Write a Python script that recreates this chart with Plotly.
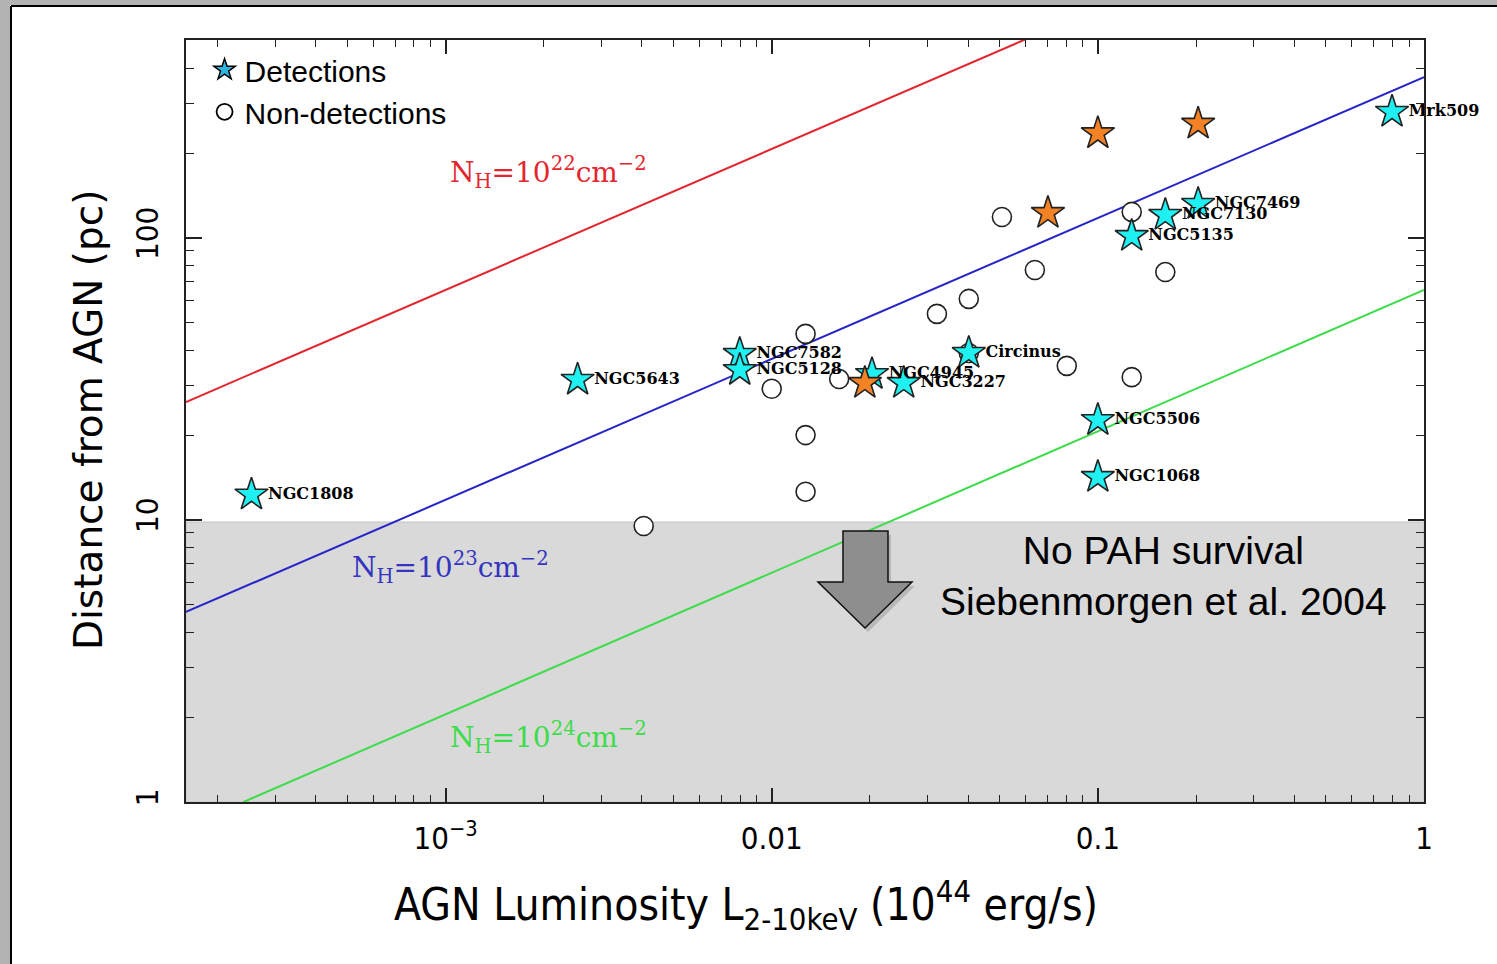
import plotly.graph_objects as go
import numpy as np

# ---------------- data ----------------
det_names = ["NGC1808", "NGC5643", "NGC7582", "NGC5128", "NGC4945", "NGC3227",
             "Circinus", "NGC5506", "NGC1068", "NGC5135", "NGC7130", "NGC7469", "Mrk509"]
det_L = [2.54e-4, 2.54e-3, 7.98e-3, 7.98e-3, 0.0203, 0.0254,
         0.0402, 0.100, 0.100, 0.127, 0.161, 0.203, 0.798]
det_d = [12.3, 31.4, 38.8, 34.0, 32.9, 30.6,
         39.1, 22.6, 14.2, 101.6, 120.7, 132.0, 280.0]

orange_L = [0.0193, 0.0703, 0.100, 0.203]
orange_d = [30.6, 122.6, 235.0, 254.0]

nondet_L = [4.05e-3, 0.0100, 0.0127, 0.0127, 0.0127, 0.0161, 0.0321, 0.0402,
            0.0402, 0.0508, 0.0641, 0.0803, 0.127, 0.127, 0.161]
nondet_d = [9.52, 29.2, 45.7, 20.0, 12.6, 31.6, 53.8, 60.8,
            39.1, 118.7, 77.0, 35.2, 123.7, 32.1, 75.7]

# N_H lines: endpoints (L, d)
line_22_L = [1.6e-4, 1.0]
line_22_d = [26.2, 2065.0]
line_23_L = [1.6e-4, 1.0]
line_23_d = [4.72, 372.0]
line_24_L = [2.4e-4, 1.0]
line_24_d = [1.0, 65.5]

x_ticks = [1e-3, 0.01, 0.1, 1]
x_ticktext = ["10<sup>−3</sup>", "0.01", "0.1", "1"]
y_ticks = [1, 10, 100]
y_ticktext = ["1", "10", "100"]
x_minor = [m * 10.0 ** k for k in range(-4, 0) for m in range(2, 10)]
y_minor = [m * 10.0 ** k for k in range(0, 3) for m in range(2, 10)]

x_range_log = [np.log10(1.6e-4), 0.0]
y_range_log = [0.0, 2.702]

# ---------------- figure ----------------
W, H = 1497, 964
L_M, R_M, T_M, B_M = 186, 73, 40, 162
PW, PH = W - L_M - R_M, H - T_M - B_M


def px(xp):
    return (xp - L_M) / PW


def py(yp):
    return (H - B_M - yp) / PH


fig = go.Figure()

fig.add_trace(go.Scatter(x=line_22_L, y=line_22_d, mode="lines",
                         line=dict(color="#e3262e", width=2), showlegend=False, hoverinfo="skip"))
fig.add_trace(go.Scatter(x=line_23_L, y=line_23_d, mode="lines",
                         line=dict(color="#2626c8", width=2), showlegend=False, hoverinfo="skip"))
fig.add_trace(go.Scatter(x=line_24_L, y=line_24_d, mode="lines",
                         line=dict(color="#3ddc4a", width=2), showlegend=False, hoverinfo="skip"))

fig.add_trace(go.Scatter(x=nondet_L, y=nondet_d, mode="markers",
                         marker=dict(symbol="circle", size=19, color="white",
                                     line=dict(color="#222", width=1.6)),
                         showlegend=False))

fig.add_trace(go.Scatter(x=det_L, y=det_d, mode="markers+text", text=det_names,
                         textposition="middle right", cliponaxis=False,
                         textfont=dict(family="DejaVu Serif", size=16, color="black", weight="bold"),
                         marker=dict(symbol="star", size=25, color="#1ff0f2",
                                     line=dict(color="#222", width=1.6)),
                         showlegend=False))

fig.add_trace(go.Scatter(x=orange_L, y=orange_d, mode="markers",
                         marker=dict(symbol="star", size=25, color="#f28224",
                                     line=dict(color="#222", width=1.6)),
                         showlegend=False))

# legend-only entries
fig.add_trace(go.Scatter(x=[None], y=[None], mode="markers", name="Detections",
                         marker=dict(symbol="star", size=16, color="#2ab6e0",
                                     line=dict(color="black", width=1.5))))
fig.add_trace(go.Scatter(x=[None], y=[None], mode="markers", name="Non-detections",
                         marker=dict(symbol="circle", size=16, color="white",
                                     line=dict(color="black", width=1.8))))

shapes = []
# shaded "no PAH survival" region
shapes.append(dict(type="rect", xref="paper", yref="paper", x0=0, x1=1, y0=0, y1=py(522),
                   fillcolor="#d9d9d9", line=dict(color="#c4c4c4", width=1), layer="below"))
# down arrow
ax = [843, 888, 888, 912, 865, 818, 843]
ay = [531, 531, 582, 582, 628, 582, 582]
path = "M " + " L ".join(f"{px(a):.5f},{py(b):.5f}" for a, b in zip(ax, ay)) + " Z"
shadow = "M " + " L ".join(f"{px(a + 3):.5f},{py(b + 4):.5f}" for a, b in zip(ax, ay)) + " Z"
shapes.append(dict(type="path", xref="paper", yref="paper", path=shadow,
                   fillcolor="rgba(0,0,0,0.15)", line=dict(width=0)))
shapes.append(dict(type="path", xref="paper", yref="paper", path=path,
                   fillcolor="#8e8e8e", line=dict(color="#111", width=1.5)))
# outer frame (gray band + black line at top and left)
shapes.append(dict(type="rect", xref="paper", yref="paper", x0=px(0), x1=px(10),
                   y0=py(964), y1=py(0), fillcolor="#b3b3b3", line=dict(width=0)))
shapes.append(dict(type="rect", xref="paper", yref="paper", x0=px(0), x1=px(1497),
                   y0=py(5), y1=py(0), fillcolor="#b3b3b3", line=dict(width=0)))
shapes.append(dict(type="line", xref="paper", yref="paper", x0=px(11), x1=px(11),
                   y0=py(964), y1=py(6), line=dict(color="black", width=2)))
shapes.append(dict(type="line", xref="paper", yref="paper", x0=px(11), x1=px(1497),
                   y0=py(6), y1=py(6), line=dict(color="black", width=2)))

serif = "DejaVu Serif"
annotations = [
    dict(text="N<sub>H</sub>=10<sup>22</sup>cm<sup>−2</sup>", x=px(548), y=py(172),
         font=dict(family=serif, size=28, color="#e3262e")),
    dict(text="N<sub>H</sub>=10<sup>23</sup>cm<sup>−2</sup>", x=px(450), y=py(567),
         font=dict(family=serif, size=28, color="#3434c0")),
    dict(text="N<sub>H</sub>=10<sup>24</sup>cm<sup>−2</sup>", x=px(548), y=py(737),
         font=dict(family=serif, size=28, color="#3ddc4a")),
    dict(text="No PAH survival<br>Siebenmorgen et al. 2004", x=px(1163), y=py(576),
         font=dict(family="Liberation Sans, Arial", size=39, color="black")),
    dict(text="AGN Luminosity L<sub>2-10keV</sub> (10<sup>44</sup> erg/s)", x=px(746), y=py(905),
         font=dict(family="Liberation Sans Narrow, DejaVu Sans Condensed, Arial", size=44, color="black")),
    dict(text="Distance from AGN (pc)", x=px(88), y=py(420), textangle=-90,
         font=dict(family="DejaVu Sans, Verdana", size=39, color="black")),
]
for a in annotations:
    a.update(xref="paper", yref="paper", showarrow=False, xanchor="center", yanchor="middle")

tick_font = dict(family="Liberation Sans Narrow, DejaVu Sans Condensed, Arial", size=31, color="black")
axis_common = dict(showgrid=False, zeroline=False, showline=True, linecolor="#222", linewidth=2,
                   mirror="ticks", ticks="inside", tickcolor="#222", tickwidth=1.5,
                   tickfont=tick_font)

fig.update_xaxes(type="log", range=x_range_log, tickvals=x_ticks, ticktext=x_ticktext,
                 ticklen=14, ticklabelstandoff=8,
                 minor=dict(tickvals=x_minor, ticks="inside", ticklen=7, tickcolor="#222",
                            tickwidth=1.2, showgrid=False),
                 **axis_common)
fig.update_yaxes(type="log", range=y_range_log, tickvals=y_ticks, ticktext=y_ticktext,
                 ticklen=16, tickangle=-90, ticklabelstandoff=14,
                 minor=dict(tickvals=y_minor, ticks="inside", ticklen=8, tickcolor="#222",
                            tickwidth=1.2, showgrid=False),
                 **axis_common)

fig.update_layout(
    width=W, height=H,
    margin=dict(l=L_M, r=R_M, t=T_M, b=B_M),
    paper_bgcolor="white", plot_bgcolor="white",
    shapes=shapes, annotations=annotations,
    legend=dict(x=0.015, y=0.995, xanchor="left", yanchor="top", bgcolor="rgba(0,0,0,0)",
                font=dict(family="Liberation Sans, Arial", size=30, color="black"),
                tracegroupgap=0, itemsizing="trace"),
    showlegend=True,
)

fig.write_html("out.html", config={"displayModeBar": False},
               post_script="document.body.style.margin='0';")
